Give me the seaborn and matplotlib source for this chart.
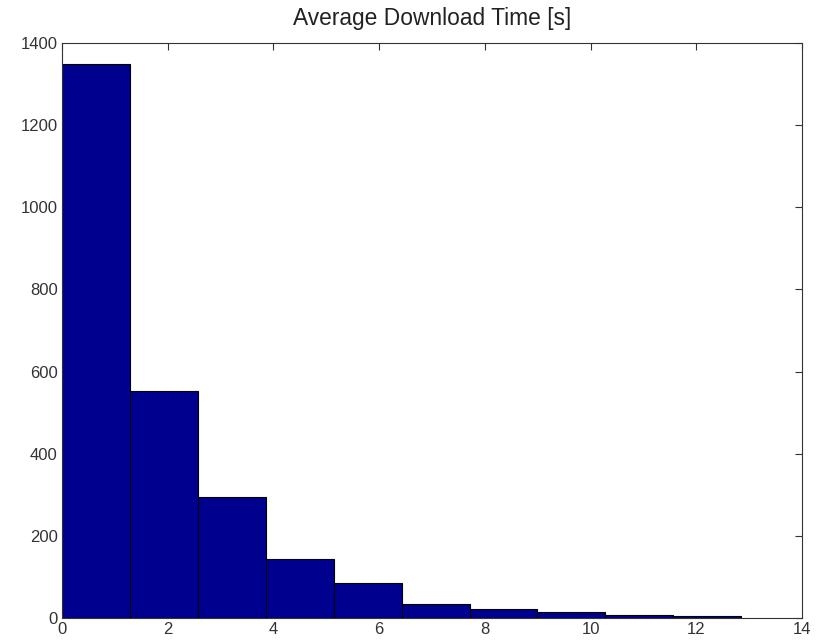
import numpy as np
import pandas as pd
import matplotlib
matplotlib.use('Agg')
import matplotlib.pyplot as plt
import seaborn as sns

# histogram bins (seconds) and counts
bin_edges = [0.0, 1.285, 2.57, 3.855, 5.14, 6.425, 7.71, 8.995, 10.28, 11.565, 12.85]
counts = [1348, 553, 295, 144, 86, 33, 23, 15, 8, 5]
x_ticks = [0, 2, 4, 6, 8, 10, 12, 14]
y_ticks = [0, 200, 400, 600, 800, 1000, 1200, 1400]

sns.set_theme(style='white')
plt.rcParams['font.family'] = ['Liberation Sans', 'DejaVu Sans']

centers = [(a + b) / 2 for a, b in zip(bin_edges[:-1], bin_edges[1:])]
df = pd.DataFrame({'time': centers, 'count': counts})

fig = plt.figure(figsize=(8.21, 6.4), dpi=100)
ax = fig.add_axes([0.0755, 0.0344, 0.9014, 0.8984])

sns.histplot(data=df, x='time', weights='count', bins=bin_edges, ax=ax,
             color='#00008F', edgecolor='black', linewidth=0.8, alpha=1.0)

ax.set_xlim(0, 14)
ax.set_ylim(0, 1400)
ax.set_xticks(x_ticks)
ax.set_yticks(y_ticks)
ax.set_xlabel('')
ax.set_ylabel('')
ax.set_title('Average Download Time [s]', fontsize=16.4, color='#222222', pad=13)

ax.tick_params(direction='in', length=5, width=0.8, top=True, right=True,
               labelsize=12, colors='#333333', pad=3)
for s in ax.spines.values():
    s.set_visible(True)
    s.set_color('#333333')
    s.set_linewidth(0.8)

fig.savefig('out.png', dpi=100)
